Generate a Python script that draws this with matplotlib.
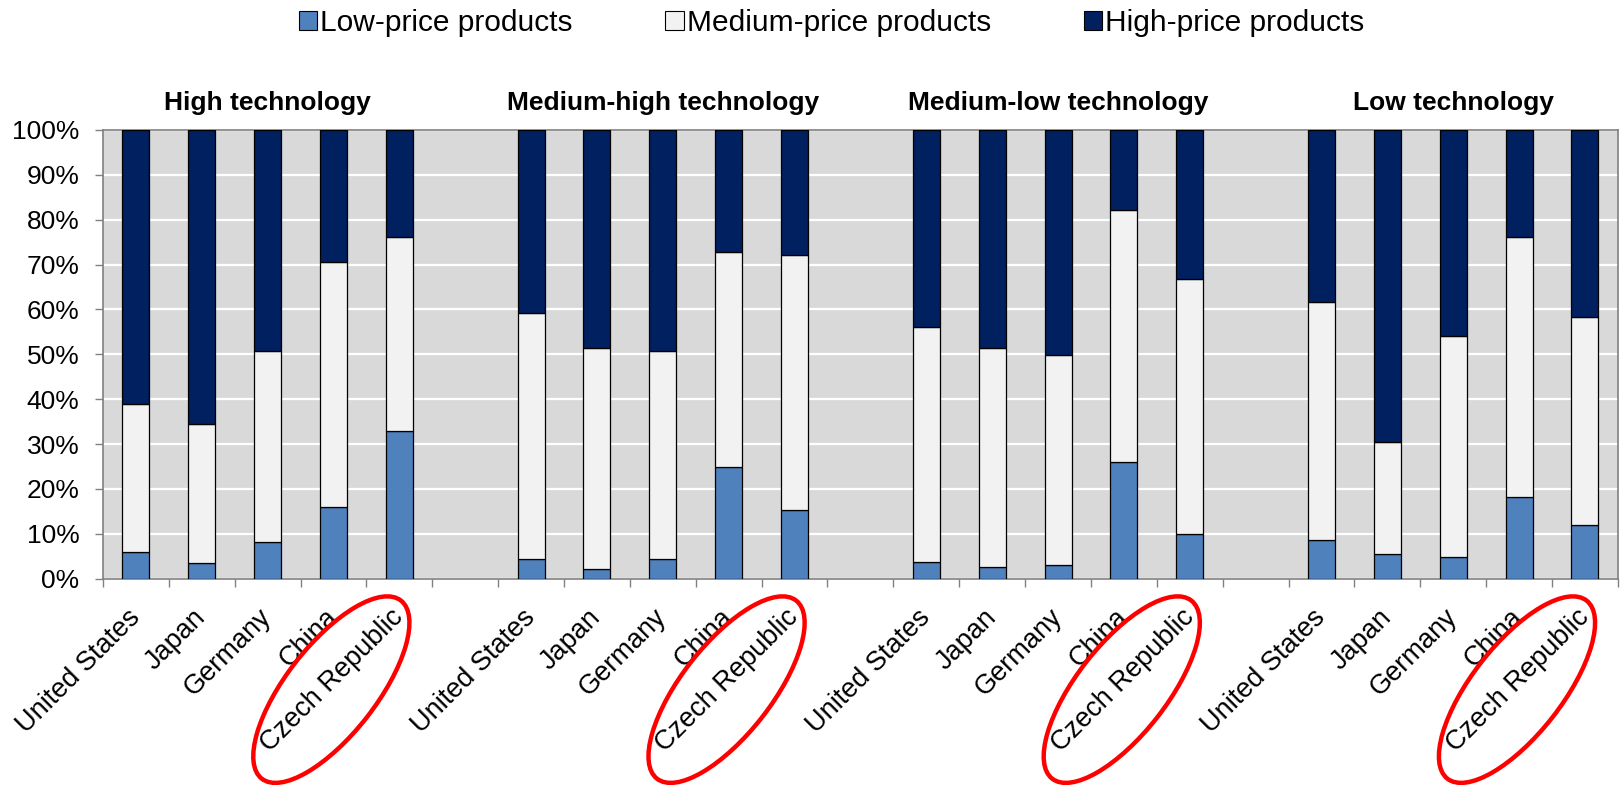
import matplotlib
matplotlib.use("Agg")
from matplotlib import pyplot as plt
from matplotlib.patches import Ellipse, Patch
import numpy as np

plt.rcParams["font.family"] = ["Liberation Sans", "DejaVu Sans"]

# shares in percent
groups = ["High technology", "Medium-high technology", "Medium-low technology", "Low technology"]
countries = ["United States", "Japan", "Germany", "China", "Czech Republic"]
series_names = ["Low-price products", "Medium-price products", "High-price products"]

low_price = [
    [6.0, 3.4, 8.2, 16.0, 32.8],
    [4.4, 2.2, 4.4, 24.8, 15.3],
    [3.6, 2.5, 3.1, 25.9, 10.0],
    [8.5, 5.6, 4.9, 18.3, 11.9],
]
# low + medium (top of the light segment)
low_plus_medium = [
    [39.0, 34.5, 50.8, 70.5, 76.1],
    [59.2, 51.5, 50.8, 72.8, 72.2],
    [56.0, 51.3, 49.8, 82.1, 66.7],
    [61.6, 30.4, 54.1, 76.1, 58.4],
]
highlight = "Czech Republic"

colors = ["#4F81BD", "#F2F2F2", "#002060"]

fig = plt.figure(figsize=(16.21, 7.85), dpi=100)
ax = fig.add_axes([0.0635, 0.2629, 0.9346, 0.5715])
ax.set_facecolor("#D9D9D9")

n = len(countries)
step = n + 1
positions, labels = [], []
for g in range(len(groups)):
    pos = np.arange(n) + g * step
    low = np.array(low_price[g])
    med = np.array(low_plus_medium[g]) - low
    high = 100 - np.array(low_plus_medium[g])
    bottom = np.zeros(n)
    for vals, col in zip([low, med, high], colors):
        ax.bar(pos, vals, bottom=bottom, width=0.41, color=col,
               edgecolor="black", linewidth=0.9, zorder=3)
        bottom = bottom + vals
    positions.extend(pos)
    labels.extend(countries)
    ax.text(g * step + (n - 1) / 2, 1.0446, groups[g],
            transform=ax.get_xaxis_transform(), ha="center", va="baseline",
            fontsize=19, fontweight="bold")

total_slots = len(groups) * step - 1
ax.set_xlim(-0.5, total_slots - 0.5)
ax.set_ylim(0, 100)

ax.set_yticks(np.arange(0, 101, 10))
ax.set_yticklabels([f"{v}%" for v in range(0, 101, 10)])
ax.yaxis.grid(True, color="white", linewidth=1.6, zorder=1)
ax.set_axisbelow(True)

ax.set_xticks(np.arange(-0.5, total_slots, 1.0))
ax.set_xticklabels([])
ax.set_xticks(positions, minor=True)
ax.set_xticklabels(labels, minor=True)
ax.tick_params(axis="x", which="major", length=6, color="#808080", width=1)
ax.tick_params(axis="x", which="minor", length=0, pad=25, labelsize=19.5)
ax.tick_params(axis="y", length=6, color="#808080", width=1, pad=11, labelsize=19)
plt.setp(ax.get_xticklabels(minor=True), rotation=45, ha="right",
         va="center", rotation_mode="anchor")

for side in ["left", "right", "top", "bottom"]:
    ax.spines[side].set_color("#808080")
    ax.spines[side].set_linewidth(1.2)

handles = [Patch(facecolor=c, edgecolor="black", linewidth=0.8) for c in colors]
fig.legend(handles, series_names, loc="upper center", bbox_to_anchor=(0.513, 1.023),
           ncol=3, frameon=False, fontsize=21.5, handlelength=0.62, handleheight=0.62,
           handletextpad=0.1, columnspacing=3.1)

# red rings round the Czech Republic labels
fig.canvas.draw()
for g in range(len(groups)):
    x = g * step + countries.index(highlight)
    xd, yd = ax.transData.transform((x, 0))
    centre = ((xd - 68) / fig.dpi, (yd - 111) / fig.dpi)
    ring = Ellipse(centre, 2.26, 0.90, angle=52, transform=fig.dpi_scale_trans,
                   fill=False, edgecolor="#FF0000", linewidth=3.2, zorder=10)
    fig.add_artist(ring)

fig.savefig("out.png", dpi=100)
